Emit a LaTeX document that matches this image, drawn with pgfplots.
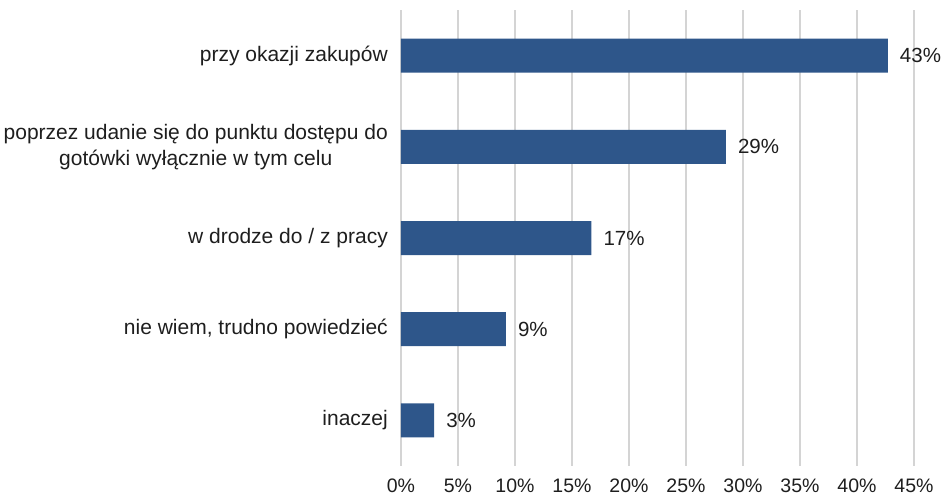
\documentclass[border=0pt]{standalone}
\usepackage{fontspec}
\setmainfont{Liberation Sans}
\usepackage{pgfplots}
\pgfplotsset{compat=1.18}
\definecolor{barblue}{RGB}{46,86,138}
\definecolor{gridgray}{RGB}{212,212,212}
\definecolor{txt}{RGB}{30,30,30}
\begin{document}
\fontsize{21}{26}\selectfont
\begin{tikzpicture}
\path[use as bounding box] (-401pt,-34pt) rectangle (543pt,466pt);
\begin{axis}[
  name=ax, at={(0,0)}, anchor=south west,
  scale only axis, width=513pt, height=456pt,
  xbar, bar width=34pt,
  xmin=0, xmax=45, ymin=-0.5, ymax=4.5, y dir=reverse,
  axis line style={draw=none},
  xtick={0,5,10,15,20,25,30,35,40,45},
  xticklabels={0\%,5\%,10\%,15\%,20\%,25\%,30\%,35\%,40\%,45\%},
  xmajorgrids, grid style={gridgray, line width=1.1pt},
  major tick length=0pt,
  ytick={0,1,2,3,4},
  yticklabels={{przy okazji zakupów},{poprzez udanie się do punktu dostępu do\\gotówki wyłącznie w tym celu},{w drodze do / z pracy},{nie wiem, trudno powiedzieć},{inaczej}},
  yticklabel style={align=center, font=\fontsize{21}{26}\selectfont, text=txt, xshift=-6pt},
  xticklabel style={font=\fontsize{19.5}{23}\selectfont, text=txt, yshift=-6pt},
  nodes near coords={\pgfplotspointmeta\%},
  point meta=explicit symbolic,
  nodes near coords style={anchor=west, xshift=5pt, font=\fontsize{20.5}{24}\selectfont, text=txt},
]
\addplot[fill=barblue, draw=none] table[x=x, y=y, meta=lab] {
x y lab
42.7 0 43
28.5 1 29
16.7 2 17
9.2 3 9
2.9 4 3
};
\end{axis}
\end{tikzpicture}
\end{document}
